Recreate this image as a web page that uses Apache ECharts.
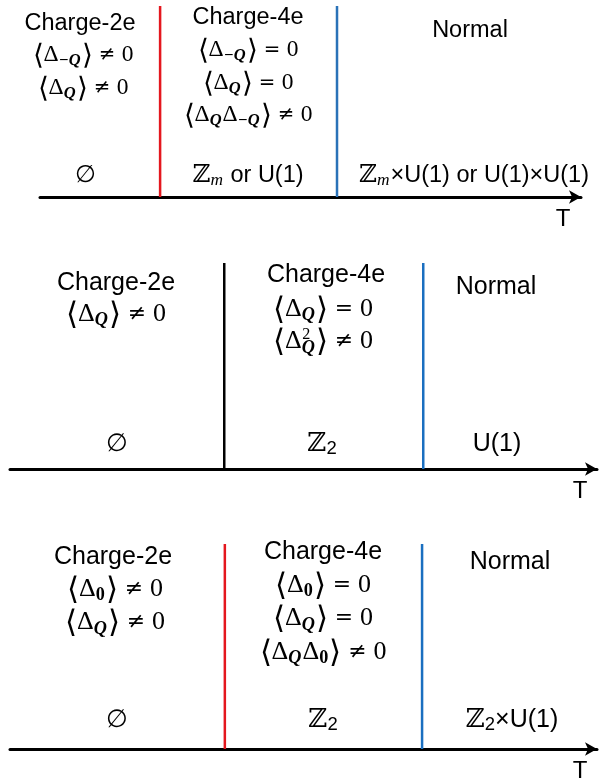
<!DOCTYPE html>
<html><head><meta charset="utf-8">
<script src="https://cdn.jsdelivr.net/npm/echarts@6/dist/echarts.min.js"></script>
<style>html,body{margin:0;padding:0;background:#fff}#c{width:604px;height:783px}</style>
</head><body><div id="c"></div>
<script>
// ---------------- DATA ----------------
const axisName = 'T';
const phaseNames = ['Charge-2e', 'Charge-4e', 'Normal'];

// transition temperatures (arbitrary T units on a 0..10 axis)
const p1Transitions = [2.22, 5.49];
const p2Transitions = [3.65, 7.04];
const p3Transitions = [3.66, 7.02];
const p1LineColors = ['#e4171e', '#2a72b8'];
const p2LineColors = ['#000000', '#1a6fc0'];
const p3LineColors = ['#e4171e', '#1a6fc0'];

// order parameters per phase (rich markup)
const p1Orders = [
  ['{b|⟨}{m|Δ}{s|−Q}{b|⟩}{o| ≠ }{m|0}', '{b|⟨}{m|Δ}{s|Q}{b|⟩}{o| ≠ }{m|0}'],
  ['{b|⟨}{m|Δ}{s|−Q}{b|⟩}{o| = }{m|0}', '{b|⟨}{m|Δ}{s|Q}{b|⟩}{o| = }{m|0}', '{b|⟨}{m|Δ}{s|Q}{m|Δ}{s|−Q}{b|⟩}{o| ≠ }{m|0}']
];
const p2Orders = [
  ['{b|⟨}{m|Δ}{s|Q}{b|⟩}{o| ≠ }{m|0}'],
  ['{b|⟨}{m|Δ}{s|Q}{b|⟩}{o| = }{m|0}', '{b|⟨}{m|Δ}{sup|2}{s|Q}{b|⟩}{o| ≠ }{m|0}']
];
const p3Orders = [
  ['{b|⟨}{m|Δ}{s0|0}{b|⟩}{o| ≠ }{m|0}', '{b|⟨}{m|Δ}{s|Q}{b|⟩}{o| ≠ }{m|0}'],
  ['{b|⟨}{m|Δ}{s0|0}{b|⟩}{o| = }{m|0}', '{b|⟨}{m|Δ}{s|Q}{b|⟩}{o| = }{m|0}', '{b|⟨}{m|Δ}{s|Q}{m|Δ}{s0|0}{b|⟩}{o| ≠ }{m|0}']
];
// residual symmetry per phase
const p1Symmetry = ['{t|∅}', '{z|ℤ}{zi|m}{t| or U(1)}', '{z|ℤ}{zi|m}{t|×U(1) or U(1)×U(1)}'];
const p2Symmetry = ['{t|∅}', '{z|ℤ}{zs|2}', '{t|U(1)}'];
const p3Symmetry = ['{t|∅}', '{z|ℤ}{zs|2}', '{z|ℤ}{zs|2}{t|×U(1)}'];

// ---------------- LAYOUT ----------------
const panels = [
  { grid: {left: 40, top: 6, width: 541, height: 191}, trans: p1Transitions, colors: p1LineColors,
    orders: p1Orders, sym: p1Symmetry, font: 23.5, math: 23.5,
    titleX: [80, 248, 470], titleY: [24, 18, 31], orderX: [83, 248], orderY: [55, 50], step: 32.5,
    symX: [85, 248, 474], symY: 176, nameGap: -18 },
  { grid: {left: 10, top: 263, width: 587, height: 206}, trans: p2Transitions, colors: p2LineColors,
    orders: p2Orders, sym: p2Symmetry, font: 25, math: 26,
    titleX: [116, 326, 496], titleY: [283, 275, 287], orderX: [116, 323], orderY: [314, 309], step: 32.5,
    symX: [117, 322, 497], symY: 444, nameGap: -17 },
  { grid: {left: 10, top: 544, width: 587, height: 205}, trans: p3Transitions, colors: p3LineColors,
    orders: p3Orders, sym: p3Symmetry, font: 25, math: 26,
    titleX: [113, 323, 510], titleY: [557, 552, 562], orderX: [115, 323], orderY: [589, 585], step: 33.5,
    symX: [117, 323, 512], symY: 720, nameGap: -17 }
];

const SANS = 'Liberation Sans, Arial, sans-serif';
const MATH = 'Liberation Serif, DejaVu Serif, serif';

function richFor(sz, ms) {
  return {
    m: {fontFamily: MATH, fontSize: ms, fill: '#000'},
    o: {fontFamily: 'DejaVu Sans', fontSize: ms * 0.84, fill: '#000'},
    b: {fontFamily: 'DejaVu Sans', fontWeight: 200, fontSize: ms * 1.18, fill: '#000', padding: [4, 0, 0, 0]},
    s: {fontFamily: MATH, fontSize: ms * 0.7, fontWeight: 'bold', fontStyle: 'italic', fill: '#000', padding: [ms * 0.5, 1, 0, 0]},
    s0: {fontFamily: MATH, fontSize: ms * 0.7, fontWeight: 'bold', fill: '#000', padding: [ms * 0.5, 1, 0, 0]},
    sup: {fontFamily: MATH, fontSize: ms * 0.62, fill: '#000', width: -9, padding: [0, 0, ms * 0.55, 9]},
    z: {fontFamily: 'DejaVu Serif', fontSize: sz * 1.05, fill: '#000'},
    zi: {fontFamily: MATH, fontSize: sz * 0.74, fontStyle: 'italic', fill: '#000', padding: [sz * 0.4, 1, 0, 0]},
    zs: {fontFamily: SANS, fontSize: sz * 0.74, fill: '#000', padding: [sz * 0.4, 0, 0, 0]},
    t: {fontFamily: SANS, fontSize: sz, fill: '#000'}
  };
}

function txt(x, y, text, rich, sz) {
  return {
    type: 'text', x: x, y: y, silent: true,
    style: {text: text, rich: rich, fontFamily: SANS, fontSize: sz, fill: '#000',
            align: 'center', verticalAlign: 'middle', textAlign: 'center', textVerticalAlign: 'middle'}
  };
}

const grids = [], xAxes = [], yAxes = [], series = [], graphics = [];
panels.forEach((p, i) => {
  grids.push(p.grid);
  xAxes.push({
    type: 'value', gridIndex: i, min: 0, max: 10,
    axisLine: {show: true, onZero: false, lineStyle: {color: '#000', width: 3},
               symbol: ['none', 'arrow'], symbolSize: [10, 12]},
    axisTick: {show: false}, axisLabel: {show: false}, splitLine: {show: false},
    name: axisName, nameLocation: 'end', nameGap: p.nameGap,
    nameTextStyle: {fontFamily: SANS, fontSize: 24, color: '#000', align: 'center', verticalAlign: 'top', padding: [10, 0, 0, 0]}
  });
  yAxes.push({type: 'value', gridIndex: i, min: 0, max: 1, show: false});
  p.trans.forEach((t, k) => {
    series.push({
      type: 'line', xAxisIndex: i, yAxisIndex: i, symbol: 'none', silent: true, z: 1,
      lineStyle: {color: p.colors[k], width: 2.5},
      data: [[t, 0], [t, 1]]
    });
  });
  const rich = richFor(p.font, p.math);
  phaseNames.forEach((n, k) => graphics.push(txt(p.titleX[k], p.titleY[k], n, rich, p.font)));
  p.orders.forEach((lines, k) => {
    lines.forEach((l, j) => graphics.push(txt(p.orderX[k], p.orderY[k] + j * p.step, l, rich, p.font)));
  });
  p.sym.forEach((s, k) => graphics.push(txt(p.symX[k], p.symY, s, rich, p.font)));
});

const chart = echarts.init(document.getElementById('c'), null, {renderer: 'canvas'});
chart.setOption({
  backgroundColor: '#fff',
  animation: false,
  grid: grids, xAxis: xAxes, yAxis: yAxes, series: series,
  graphic: graphics
});
</script></body></html>
